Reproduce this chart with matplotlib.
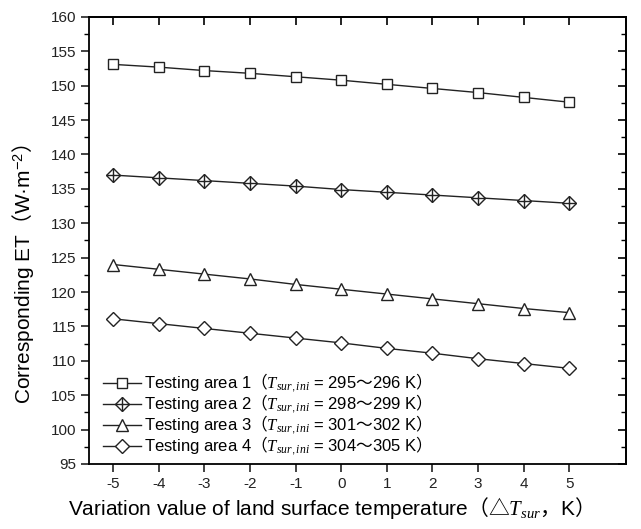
import matplotlib
matplotlib.use("Agg")
import matplotlib.pyplot as plt
from matplotlib.ticker import MultipleLocator

plt.rcParams['font.family'] = ['Liberation Sans', 'Noto Sans CJK SC', 'DejaVu Sans']
# custom mathtext: italic symbols in a Times-like face, \mathsf used for the CJK punctuation
plt.rcParams['mathtext.fontset'] = 'custom'
plt.rcParams['mathtext.rm'] = 'Liberation Sans'
plt.rcParams['mathtext.it'] = 'Liberation Serif:italic'
plt.rcParams['mathtext.sf'] = 'Noto Sans CJK SC'
plt.rcParams['axes.unicode_minus'] = False

# data
dT = [-5, -4, -3, -2, -1, 0, 1, 2, 3, 4, 5]
area1 = [153.1, 152.7, 152.2, 151.8, 151.3, 150.8, 150.2, 149.6, 149.0, 148.3, 147.6]
area2 = [137.0, 136.6, 136.2, 135.8, 135.4, 134.9, 134.5, 134.1, 133.7, 133.3, 132.9]
area3 = [124.0, 123.3, 122.6, 121.9, 121.1, 120.4, 119.7, 119.0, 118.3, 117.6, 117.0]
area4 = [116.1, 115.4, 114.7, 114.0, 113.3, 112.6, 111.8, 111.1, 110.3, 109.6, 108.9]
ranges = ["295", "296"], ["298", "299"], ["301", "302"], ["304", "305"]
labels = ["Testing area %d$\\mathsf{（}T_{sur,ini}$ = %s$\\mathsf{～}$%s K$\\mathsf{）}$"
          % (i + 1, lo, hi) for i, (lo, hi) in enumerate(ranges)]
xlabel = "Variation value of land surface temperature$\\mathsf{（△}T_{sur}\\mathsf{，}$K$\\mathsf{）}$"
ylabel = "Corresponding ET$\\mathsf{（}$W·m$^{\\mathrm{-2}}\\mathsf{）}$"

fig = plt.figure(figsize=(6.41, 5.29), dpi=100)
ax = fig.add_axes([0.139, 0.123, 0.838, 0.845])

col = '#222222'
common = dict(color=col, lw=1.0, mfc='white', mec=col, mew=1.0, ms=7.5)
h1, = ax.plot(dT, area1, marker='s', **common)
h2, = ax.plot(dT, area2, marker='D', **dict(common, ms=7))
h2b, = ax.plot(dT, area2, marker='+', ls='none', color=col, ms=10, mew=1.0)
h3, = ax.plot(dT, area3, marker='^', **dict(common, ms=8.5))
h4, = ax.plot(dT, area4, marker='D', **dict(common, ms=7))

ax.legend([h1, (h2, h2b), h3, h4], labels, loc='lower left', frameon=False,
          fontsize=12, handlelength=2.3, handletextpad=0.2,
          labelspacing=-0.12, borderaxespad=0.1, borderpad=0.3,
          bbox_to_anchor=(0.013, 0.0))

ax.set_xlim(-5.53, 6.25)
ax.set_ylim(95, 160)
ax.set_xticks(dT)
ax.yaxis.set_major_locator(MultipleLocator(5))
ax.yaxis.set_minor_locator(MultipleLocator(2.5))

ax.tick_params(axis='both', which='major', direction='out', length=6, width=1.2,
               labelsize=11, colors='#222222')
ax.tick_params(axis='y', which='minor', direction='out', length=3.5, width=1.0)
secx = ax.secondary_xaxis('top')
secx.set_xticks(dT)
secx.tick_params(direction='in', length=6, width=1.2, labeltop=False)
secy = ax.secondary_yaxis('right')
secy.yaxis.set_major_locator(MultipleLocator(5))
secy.yaxis.set_minor_locator(MultipleLocator(2.5))
secy.tick_params(which='major', direction='in', length=6, width=1.2, labelright=False)
secy.tick_params(which='minor', direction='in', length=3.5, width=1.0)
for s in ax.spines.values():
    s.set_linewidth(1.3)
secx.spines['top'].set_linewidth(1.3)
secy.spines['right'].set_linewidth(1.3)

ax.set_xlabel(xlabel, fontsize=15)
ax.xaxis.set_label_coords(0.44, -0.07)
ax.set_ylabel(ylabel, fontsize=15)
ax.yaxis.set_label_coords(-0.098, 0.425)

fig.savefig("out.png", dpi=100)
